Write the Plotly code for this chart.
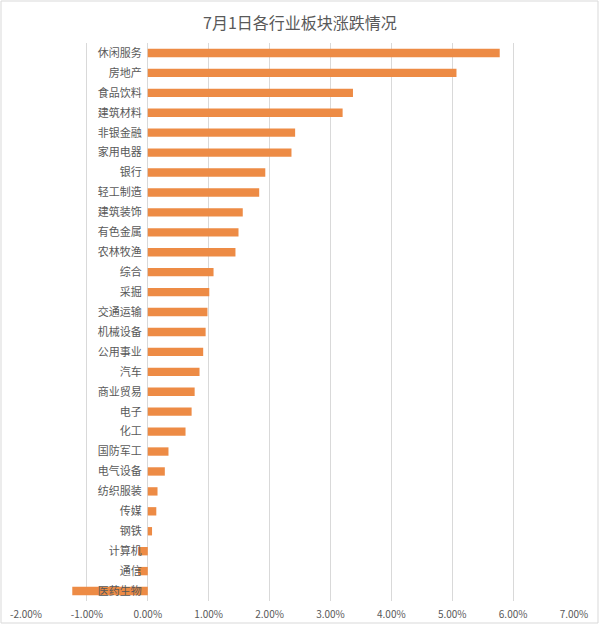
import plotly.graph_objects as go

categories = ["休闲服务", "房地产", "食品饮料", "建筑材料", "非银金融", "家用电器", "银行",
              "轻工制造", "建筑装饰", "有色金属", "农林牧渔", "综合", "采掘", "交通运输",
              "机械设备", "公用事业", "汽车", "商业贸易", "电子", "化工", "国防军工",
              "电气设备", "纺织服装", "传媒", "钢铁", "计算机", "通信", "医药生物"]
changes = [5.78, 5.07, 3.37, 3.20, 2.42, 2.36, 1.93,
           1.83, 1.56, 1.49, 1.44, 1.08, 1.01, 0.98,
           0.95, 0.91, 0.85, 0.77, 0.72, 0.62, 0.34,
           0.28, 0.16, 0.14, 0.07, -0.16, -0.16, -1.24]
x_ticks = [-2, -1, 0, 1, 2, 3, 4, 5, 6, 7]
x_tick_labels = [f"{v:.2f}%" for v in x_ticks]

W, H = 600, 628
ml, mr, mt, mb = 26, 26, 43, 27
pw, ph = W - ml - mr, H - mt - mb
xmin, xmax = -2, 7

fig = go.Figure(go.Bar(
    x=changes, y=categories, orientation="h",
    marker=dict(color="#ED8B45", line=dict(width=0)),
))

fig.update_layout(
    width=W, height=H,
    margin=dict(l=ml, r=mr, t=mt, b=mb),
    paper_bgcolor="white", plot_bgcolor="white",
    font=dict(family="Noto Sans CJK SC, sans-serif", color="#595959"),
    title=dict(text="7月1日各行业板块涨跌情况", x=0.5, xanchor="center",
               y=1 - 23 / H, yanchor="middle",
               font=dict(size=16, color="#595959")),
    bargap=0.58,
    showlegend=False,
    xaxis=dict(range=[xmin, xmax], tickvals=x_ticks, ticktext=x_tick_labels,
               showgrid=True, gridcolor="#d9d9d9", gridwidth=1,
               zeroline=True, zerolinecolor="#d9d9d9", zerolinewidth=1,
               showline=False, ticks="", ticklabelstandoff=6, automargin=False,
               tickfont=dict(size=10, color="#595959"),
               fixedrange=True),
    yaxis=dict(categoryorder="array", categoryarray=categories, autorange="reversed",
               anchor="free", position=(0 - xmin) / (xmax - xmin), automargin=False,
               showgrid=False, zeroline=False, showline=False, ticks="",
               ticklabelstandoff=6,
               tickfont=dict(size=11, color="#595959")),
)

# outer chart-area border
fig.add_shape(type="rect", xref="paper", yref="paper",
              x0=(1 - ml) / pw, x1=(W - 2 - ml) / pw,
              y0=(mt + ph - (H - 5)) / ph, y1=(mt + ph - 1) / ph,
              line=dict(color="#d9d9d9", width=1), fillcolor="rgba(0,0,0,0)",
              layer="below")

fig.write_html("out.html")
